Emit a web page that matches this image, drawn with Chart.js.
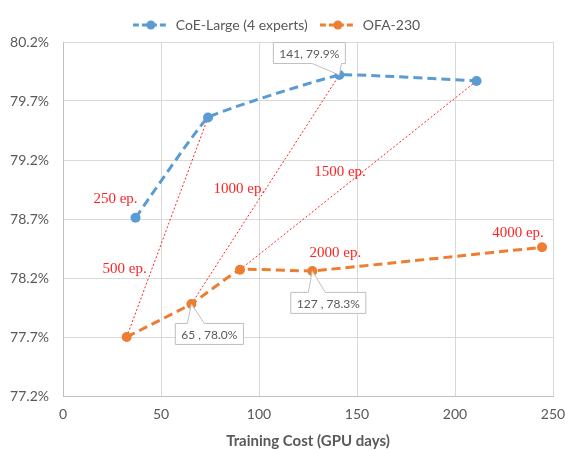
<!DOCTYPE html>
<html>
<head>
<meta charset="utf-8">
<script src="https://cdn.jsdelivr.net/npm/chart.js@4.4.1/dist/chart.umd.min.js"></script>
<style>
  html, body { margin: 0; background: #fff; }
  #wrap { width: 565px; height: 450px; }
</style>
</head>
<body>
<div id="wrap"><canvas id="c"></canvas></div>
<script>
// CoE-Large (4 experts)
const coeCost = [37, 74, 141, 211];
const coeAcc = [78.71, 79.56, 79.92, 79.87];
const coeEpochs = [250, 500, 1000, 1500];

// OFA-230
const ofaCost = [32.5, 65.5, 90.3, 127.2, 244.4];
const ofaAcc = [77.70, 77.98, 78.27, 78.26, 78.46];
const ofaEpochs = [500, 1000, 1500, 2000, 4000];

const xTicks = [0, 50, 100, 150, 200, 250];
const yTicks = [77.2, 77.7, 78.2, 78.7, 79.2, 79.7, 80.2];

// callout texts as in the original (series, point index, text)
const callouts = [
  { series: 'coe', idx: 2, text: '141, 79.9%', dx: -30, dy: -22 },
  { series: 'ofa', idx: 1, text: '65 , 78.0%', dx: 18, dy: 30 },
  { series: 'ofa', idx: 3, text: '127 , 78.3%', dx: 16, dy: 32 }
];

// epoch labels, anchored to a point of a series with a pixel offset
const epochLabels = [
  { series: 'coe', epoch: 250, dx: -20, dy: -19 },
  { series: 'ofa', epoch: 500, dx: -2, dy: -68 },
  { series: 'ofa', epoch: 1000, dx: 48, dy: -115 },
  { series: 'ofa', epoch: 1500, dx: 100, dy: -98 },
  { series: 'ofa', epoch: 2000, dx: 23, dy: -18 },
  { series: 'ofa', epoch: 4000, dx: -24, dy: -14 }
];

const BLUE = '#5B9BD5';
const ORANGE = '#ED7D31';
const RED = '#ff2424';
const GREY = '#595959';

const toPoints = (xs, ys) => xs.map((x, i) => ({ x: x, y: ys[i] }));

// dotted connectors between equal epoch counts
const connectors = [];
ofaEpochs.forEach((ep, i) => {
  const j = coeEpochs.indexOf(ep);
  if (j < 0) return;
  connectors.push({
    label: 'conn' + ep,
    data: [{ x: ofaCost[i], y: ofaAcc[i] }, { x: coeCost[j], y: coeAcc[j] }],
    showLine: true,
    borderColor: RED,
    borderWidth: 1,
    borderDash: [2, 2],
    pointRadius: 0,
    pointHoverRadius: 0,
    order: 5
  });
});

function swatch(color) {
  const c = document.createElement('canvas');
  c.width = 36; c.height = 12;
  const g = c.getContext('2d');
  g.strokeStyle = color; g.lineWidth = 3; g.setLineDash([6, 3]);
  g.beginPath(); g.moveTo(0, 6); g.lineTo(36, 6); g.stroke();
  g.fillStyle = color;
  g.beginPath(); g.arc(18, 6, 4.5, 0, Math.PI * 2); g.fill();
  return c;
}

const annotations = {
  id: 'annotations',
  afterDatasetsDraw(chart) {
    const { ctx, scales } = chart;
    const sx = scales.x, sy = scales.y;
    const pt = (series, i) => series === 'coe'
      ? [sx.getPixelForValue(coeCost[i]), sy.getPixelForValue(coeAcc[i])]
      : [sx.getPixelForValue(ofaCost[i]), sy.getPixelForValue(ofaAcc[i])];

    ctx.save();
    // epoch labels
    ctx.font = '15px "Liberation Serif", "DejaVu Serif", serif';
    ctx.fillStyle = RED;
    ctx.textAlign = 'center';
    ctx.textBaseline = 'middle';
    epochLabels.forEach(l => {
      const eps = l.series === 'coe' ? coeEpochs : ofaEpochs;
      const [px, py] = pt(l.series, eps.indexOf(l.epoch));
      ctx.fillText(l.epoch + ' ep.', px + l.dx, py + l.dy);
    });

    // callouts
    ctx.font = '12px Lato, "Open Sans", sans-serif';
    callouts.forEach(c => {
      const [px, py] = pt(c.series, c.idx);
      const w = ctx.measureText(c.text).width + 12;
      const h = 21;
      const cx = px + c.dx, cy = py + c.dy;
      const left = cx - w / 2, top = cy - h / 2;
      const above = cy < py;
      const edge = above ? top + h : top;
      const b1 = above ? cx + 3 : px - 4;
      const b2 = above ? Math.min(cx + w / 2 - 3, px + 2) : px + 13;
      ctx.beginPath();
      ctx.moveTo(left, top);
      if (!above) { ctx.lineTo(b1, top); ctx.lineTo(px, py); ctx.lineTo(b2, top); }
      ctx.lineTo(left + w, top);
      ctx.lineTo(left + w, top + h);
      if (above) { ctx.lineTo(b2, edge); ctx.lineTo(px, py); ctx.lineTo(b1, edge); }
      ctx.lineTo(left, top + h);
      ctx.closePath();
      ctx.fillStyle = '#ffffff';
      ctx.fill();
      ctx.strokeStyle = '#bfbfbf';
      ctx.lineWidth = 1;
      ctx.stroke();
      ctx.fillStyle = GREY;
      ctx.fillText(c.text, cx, cy + 1);
    });
    ctx.restore();
  }
};

new Chart(document.getElementById('c'), {
  type: 'scatter',
  data: {
    datasets: [
      {
        label: 'CoE-Large (4 experts)',
        data: toPoints(coeCost, coeAcc),
        showLine: true,
        borderColor: BLUE,
        backgroundColor: BLUE,
        borderWidth: 3,
        borderDash: [9, 5],
        tension: 0.08,
        pointRadius: 5,
        pointBorderWidth: 0,
        order: 1
      },
      {
        label: 'OFA-230',
        data: toPoints(ofaCost, ofaAcc),
        showLine: true,
        borderColor: ORANGE,
        backgroundColor: ORANGE,
        borderWidth: 3,
        borderDash: [9, 5],
        tension: 0.08,
        pointRadius: 5,
        pointBorderWidth: 0,
        order: 2
      },
      ...connectors
    ]
  },
  options: {
    responsive: true,
    maintainAspectRatio: false,
    animation: false,
    layout: { padding: { left: 0, right: 12, top: 6, bottom: 0 } },
    plugins: {
      tooltip: { enabled: false },
      legend: {
        position: 'top',
        labels: {
          usePointStyle: true,
          pointStyleWidth: 36,
          padding: 12,
          font: { family: 'Lato, "Open Sans", sans-serif', size: 14 },
          color: GREY,
          generateLabels: chart => chart.data.datasets.slice(0, 2).map((d, i) => ({
            text: d.label,
            pointStyle: swatch(d.borderColor),
            fontColor: GREY,
            strokeStyle: d.borderColor,
            fillStyle: d.borderColor,
            lineWidth: 0,
            datasetIndex: i
          }))
        }
      }
    },
    scales: {
      x: {
        type: 'linear',
        min: xTicks[0],
        max: xTicks[xTicks.length - 1],
        afterBuildTicks: s => { s.ticks = xTicks.map(v => ({ value: v })); },
        afterFit: s => { s.height = 54; s.paddingLeft = 0; s.paddingRight = 0; },
        grid: { color: '#d9d9d9', drawTicks: false },
        border: { color: '#bfbfbf' },
        ticks: { padding: 10, color: GREY, font: { family: 'Lato, "Open Sans", sans-serif', size: 14 } },
        title: {
          display: true,
          text: 'Training Cost (GPU days)',
          color: GREY,
          font: { family: 'Lato, "Open Sans", sans-serif', size: 15, weight: 'bold' },
          padding: { top: 4, bottom: 0 }
        }
      },
      y: {
        type: 'linear',
        min: yTicks[0],
        max: yTicks[yTicks.length - 1],
        afterBuildTicks: s => { s.ticks = yTicks.map(v => ({ value: v })); },
        afterFit: s => { s.width = 63; },
        grid: { color: '#d9d9d9', drawTicks: false },
        border: { color: '#bfbfbf' },
        ticks: {
          padding: 14,
          color: GREY,
          font: { family: 'Lato, "Open Sans", sans-serif', size: 14 },
          callback: v => v.toFixed(1) + '%'
        }
      }
    }
  },
  plugins: [annotations]
});
</script>
</body>
</html>
